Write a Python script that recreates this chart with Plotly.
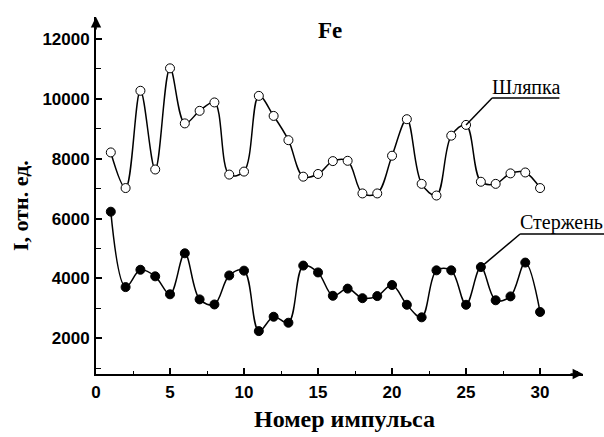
import plotly.graph_objects as go

# Pulse number
pulse = list(range(1, 31))

# Intensity, rel. units
cap_vals = [8210, 7020, 10270, 7640, 11020, 9180, 9600, 9880, 7470, 7570,
            10100, 9430, 8620, 7400, 7490, 7920, 7930, 6840, 6840, 8100,
            9320, 7160, 6770, 8770, 9130, 7230, 7160, 7510, 7540, 7020]
rod_vals = [6230, 3710, 4290, 4070, 3470, 4840, 3300, 3130, 4100, 4260,
            2240, 2720, 2520, 4430, 4200, 3420, 3660, 3340, 3410, 3780,
            3120, 2700, 4270, 4270, 3120, 4380, 3270, 3400, 4530, 2880]

cap_name = "Шляпка"
rod_name = "Стержень"

x_ticks = [0, 5, 10, 15, 20, 25, 30]
y_ticks = [2000, 4000, 6000, 8000, 10000, 12000]
y_tick_text = ["2000", "4000", "6000", "8000", "10000", "12000"]

x_range = [0, 32.9]
y_range = [807, 12735]

# Figure geometry (pixels)
W, H = 604, 437
M_L, M_R, M_T, M_B = 96, 21, 17, 63
PW, PH = W - M_L - M_R, H - M_T - M_B


def px_to_paper(px, py):
    return (px - M_L) / PW, (H - M_B - py) / PH


fig = go.Figure()

fig.add_trace(go.Scatter(
    x=pulse, y=cap_vals, name=cap_name, mode="lines+markers",
    line=dict(color="black", width=1.5, shape="spline", smoothing=1),
    marker=dict(symbol="circle", size=9, color="white",
                line=dict(color="black", width=1)),
    cliponaxis=False,
))
fig.add_trace(go.Scatter(
    x=pulse, y=rod_vals, name=rod_name, mode="lines+markers",
    line=dict(color="black", width=1.5, shape="spline", smoothing=1),
    marker=dict(symbol="circle", size=9, color="black",
                line=dict(color="black", width=1)),
    cliponaxis=False,
))

serif = "Liberation Serif"
sans = "Liberation Sans"

# Series labels with leader lines to a marker on each curve
cap_elbow = (26.76, 10029)
cap_end_x = 31.3
fig.add_shape(type="line", xref="x", yref="y",
              x0=pulse[24], y0=cap_vals[24], x1=cap_elbow[0], y1=cap_elbow[1],
              line=dict(color="black", width=1.5))
fig.add_shape(type="line", xref="x", yref="y",
              x0=cap_elbow[0], y0=cap_elbow[1], x1=cap_end_x, y1=cap_elbow[1],
              line=dict(color="black", width=1.5))
fig.add_annotation(x=cap_elbow[0], y=cap_elbow[1], xref="x", yref="y",
                   text=cap_name, showarrow=False, xanchor="left", yanchor="bottom",
                   yshift=-2, xshift=-2,
                   font=dict(family=serif, size=20, color="black"))

rod_elbow = (28.65, 5485)
fig.add_shape(type="line", xref="x", yref="y",
              x0=pulse[25], y0=rod_vals[25], x1=rod_elbow[0], y1=rod_elbow[1],
              line=dict(color="black", width=1.5))
fig.add_shape(type="line", xref="paper", yref="y",
              x0=(rod_elbow[0] - x_range[0]) / (x_range[1] - x_range[0]), y0=rod_elbow[1],
              x1=1.05, y1=rod_elbow[1],
              line=dict(color="black", width=1.5))
fig.add_annotation(x=rod_elbow[0], y=rod_elbow[1], xref="x", yref="y",
                   text=rod_name, showarrow=False, xanchor="left", yanchor="bottom",
                   yshift=-2, xshift=-2,
                   font=dict(family=serif, size=20, color="black"))

# Arrowheads at the ends of both axes
fig.add_annotation(x=1, y=0, xref="paper", yref="paper", ax=-14, ay=0,
                   text="", showarrow=True, arrowhead=2, arrowsize=1.3,
                   arrowwidth=1.6, arrowcolor="black")
fig.add_annotation(x=0, y=1, xref="paper", yref="paper", ax=0, ay=14,
                   text="", showarrow=True, arrowhead=2, arrowsize=1.3,
                   arrowwidth=1.6, arrowcolor="black")

# Element label above the curves
fx, fy = px_to_paper(330, 31)
fig.add_annotation(x=fx, y=fy, xref="paper", yref="paper",
                   xanchor="center", yanchor="middle", showarrow=False,
                   text="<b>Fe</b>",
                   font=dict(family=serif, size=23, color="black"))

# Axis titles
tx, ty = px_to_paper(344, 419)
fig.add_annotation(x=tx, y=ty, xref="paper", yref="paper",
                   xanchor="center", yanchor="middle", showarrow=False,
                   text="<b>Номер импульса</b>",
                   font=dict(family=serif, size=24, color="black"))
lx, ly = px_to_paper(20, 206)
fig.add_annotation(x=lx, y=ly, xref="paper", yref="paper",
                   xanchor="center", yanchor="middle", showarrow=False,
                   textangle=-90, text="<b>I, отн. ед.</b>",
                   font=dict(family=serif, size=22, color="black"))

fig.update_layout(
    width=W, height=H,
    margin=dict(l=M_L, r=M_R, t=M_T, b=M_B),
    paper_bgcolor="white", plot_bgcolor="white",
    showlegend=False,
    xaxis=dict(
        range=x_range, tickvals=x_ticks, ticks="inside", ticklen=6, tickwidth=1.5,
        tickcolor="black", showline=True, linecolor="black", linewidth=1.8,
        showgrid=False, zeroline=False, ticklabelstandoff=2, automargin=False,
        minor=dict(ticks="inside", ticklen=3, tickwidth=1.2, dtick=2.5, tick0=0,
                   tickcolor="black", showgrid=False),
        tickfont=dict(family=sans, size=17, color="black", weight="bold"),
    ),
    yaxis=dict(
        range=y_range, tickvals=y_ticks, ticktext=y_tick_text, ticks="inside",
        ticklen=6, tickwidth=1.5,
        tickcolor="black", showline=True, linecolor="black", linewidth=1.8,
        showgrid=False, zeroline=False, ticklabelstandoff=1, automargin=False,
        minor=dict(ticks="inside", ticklen=5, tickwidth=1.2, dtick=1000, tick0=0,
                   tickcolor="black", showgrid=False),
        tickfont=dict(family=sans, size=17, color="black", weight="bold"),
    ),
)

fig.write_html("out.html")
